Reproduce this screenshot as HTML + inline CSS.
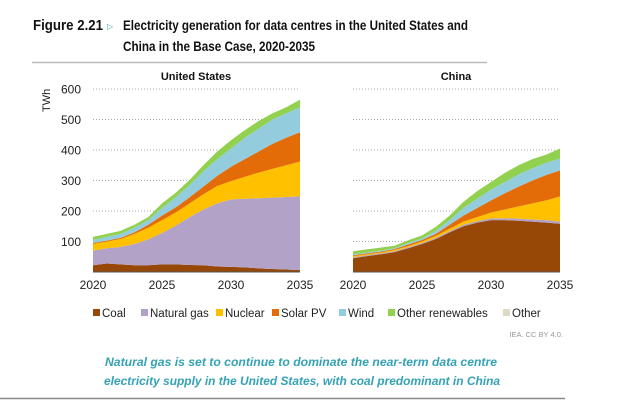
<!DOCTYPE html>
<html><head><meta charset="utf-8"><style>
body{margin:0;background:#fff;width:624px;height:405px;overflow:hidden;font-family:"Liberation Sans",sans-serif}
</style></head><body>
<svg id="chart" width="624" height="405" xmlns="http://www.w3.org/2000/svg" font-family="Liberation Sans, sans-serif">
<text x="33" y="30" font-size="14.5" font-weight="bold" fill="#111" textLength="70" lengthAdjust="spacingAndGlyphs">Figure 2.21</text>
<text x="107" y="29" font-size="8" fill="#3aa6b9">▷</text>
<text x="123" y="30" font-size="13.5" font-weight="bold" fill="#111" textLength="345" lengthAdjust="spacingAndGlyphs">Electricity generation for data centres in the United States and</text>
<text x="123" y="51" font-size="13.5" font-weight="bold" fill="#111" textLength="192" lengthAdjust="spacingAndGlyphs">China in the Base Case, 2020-2035</text>
<line x1="32" y1="62.5" x2="487" y2="62.5" stroke="#bbb" stroke-width="1.5"/>
<text x="196" y="80" font-size="11" font-weight="bold" text-anchor="middle" fill="#111">United States</text>
<text x="456" y="80" font-size="11" font-weight="bold" text-anchor="middle" fill="#111">China</text>
<text transform="translate(50,112) rotate(-90)" font-size="11" fill="#222">TWh</text>
<g id="grid"></g><g id="areas"></g><g id="axes"></g>
<g id="legend"></g>
<text x="563" y="337" font-size="7.5" text-anchor="end" fill="#999">IEA. CC BY 4.0.</text>
<text x="105" y="366" font-size="12" font-style="italic" font-weight="bold" fill="#35a2b5" textLength="392" lengthAdjust="spacingAndGlyphs">Natural gas is set to continue to dominate the near-term data centre</text>
<text x="104" y="385" font-size="12" font-style="italic" font-weight="bold" fill="#35a2b5" textLength="396" lengthAdjust="spacingAndGlyphs">electricity supply in the United States, with coal predominant in China</text>
<line x1="0" y1="398.5" x2="565" y2="398.5" stroke="#888" stroke-width="1.5"/>
</svg>
<script>
const years=[2020,2021,2022,2023,2024,2025,2026,2027,2028,2029,2030,2031,2032,2033,2034,2035];
const seriesNames=["Coal","Natural gas","Nuclear","Solar PV","Wind","Other renewables","Other"];
const colors=["#974706","#b3a2c7","#ffc000","#e36c09","#93cddd","#92d050","#ddd9c3"];
const yTicks=[100,200,300,400,500,600];
const xTicks=[2020,2025,2030,2035];
const usCoal=[22,28,25,22,22,25,25,23,22,18,17,15,12,10,8,6];
const usGas=[48,50,57,70,85,103,127,157,183,207,221,225,230,234,238,242];
const usNuclear=[22,22,26,33,38,42,43,45,50,57,60,72,84,94,104,114];
const usSolar=[3,3,4,5,10,15,17,20,25,33,47,58,69,82,90,96];
const usWind=[10,12,13,15,15,25,33,40,50,55,60,70,75,80,80,82];
const usOtherRen=[10,10,10,10,10,15,15,17,20,25,27,25,25,20,20,25];
const usOther=[0,0,0,0,0,0,0,0,0,0,0,0,0,0,0,0];
const cnCoal=[45,52,58,65,78,92,108,130,150,162,170,170,168,165,162,158];
const cnGas=[3,3,3,3,3,3,4,4,5,5,6,6,7,7,8,7];
const cnNuclear=[4,3,3,4,4,5,6,8,10,13,19,29,40,53,65,83];
const cnSolar=[3,3,3,3,5,5,7,13,20,30,40,53,65,75,83,85];
const cnWind=[3,3,3,3,5,5,10,15,25,30,35,37,40,40,40,39];
const cnOtherRen=[10,10,10,8,9,10,13,15,20,25,25,30,30,30,27,33];
const cnOther=[0,0,0,0,0,0,0,0,0,0,0,0,0,0,0,0];
const NS="http://www.w3.org/2000/svg";
function mk(tag,attrs,parent){const e=document.createElementNS(NS,tag);for(const k in attrs)e.setAttribute(k,attrs[k]);parent.appendChild(e);return e;}
const y=v=>272-v*(183/600);
function panel(x0,x1,series,key,showY){
  const x=yr=>x0+(yr-2020)*(x1-x0)/15;
  const g=document.getElementById('grid'),a=document.getElementById('areas'),ax=document.getElementById('axes');
  yTicks.forEach(t=>{
    const l=mk('line',{x1:x0,x2:x1,y1:y(t),y2:y(t),stroke:'#aaa','stroke-width':1,'stroke-dasharray':'1 2'},g);
    
    
    if(showY){const tx=mk('text',{x:81,y:y(t)+4.5,'font-size':12,'text-anchor':'end',fill:'#222'},ax);tx.textContent=t;
      
      }
  });
  let base=years.map(()=>0);
  series.forEach((s,i)=>{
    const top=base.map((b,j)=>b+s[j]);
    let d='M'+years.map((yr,j)=>x(yr)+','+y(top[j])).join(' L');
    for(let j=years.length-1;j>=0;j--)d+=' L'+x(years[j])+','+y(base[j]);
    const p=mk('path',{d:d+'Z',fill:colors[i]},a);
    
    
    base=top;
  });
  const bl=mk('line',{x1:x0,x2:x1,y1:272,y2:272,stroke:'#555','stroke-width':1},ax);
  
  
  xTicks.forEach(t=>{const tx=mk('text',{x:x(t),y:289,'font-size':12,'text-anchor':'middle',fill:'#222'},ax);tx.textContent=t;
    
    });
}
panel(93,300,[usCoal,usGas,usNuclear,usSolar,usWind,usOtherRen,usOther],'us',true);
panel(353,560,[cnCoal,cnGas,cnNuclear,cnSolar,cnWind,cnOtherRen,cnOther],'china',false);
const lg=document.getElementById('legend');
const lx=[93,141,216,272,339,388,503];
seriesNames.forEach((n,i)=>{
  const r=mk('rect',{x:lx[i],y:309,width:7,height:7,fill:colors[i]},lg);
  
  
  const t=mk('text',{x:lx[i]+9,y:317,'font-size':11.5,fill:'#222'},lg);t.textContent=n;
  
  
});
</script>
</body></html>
